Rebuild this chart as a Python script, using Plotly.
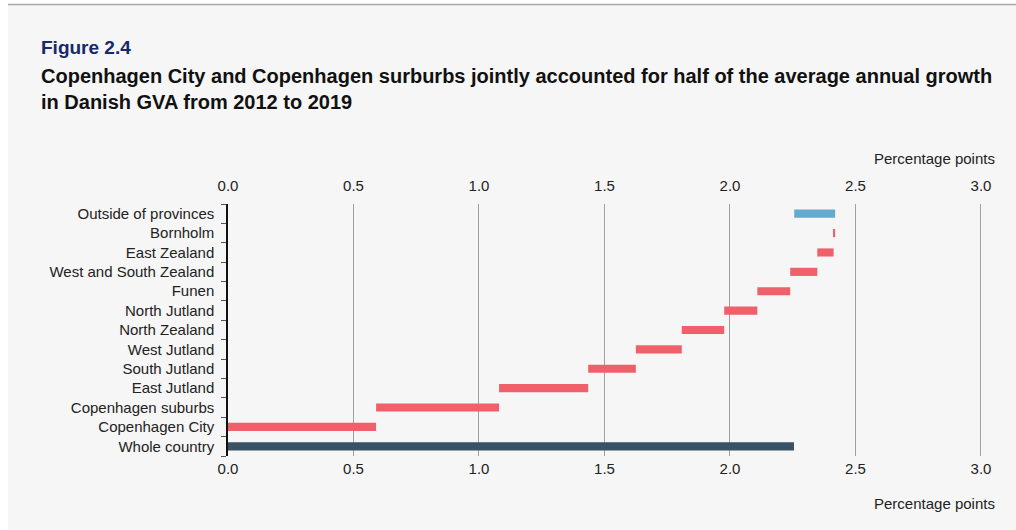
import plotly.graph_objects as go

# ---- data ----
regions = ["Copenhagen City", "Copenhagen suburbs", "East Jutland", "South Jutland",
           "West Jutland", "North Zealand", "North Jutland", "Funen",
           "West and South Zealand", "East Zealand", "Bornholm", "Outside of provinces"]
contributions = [0.59, 0.49, 0.355, 0.19, 0.183, 0.169, 0.132, 0.131, 0.108, 0.065, 0.006, -0.163]
whole_country_label = "Whole country"
whole_country_value = 2.255
x_ticks = [0.0, 0.5, 1.0, 1.5, 2.0, 2.5, 3.0]
x_tick_labels = ["0.0", "0.5", "1.0", "1.5", "2.0", "2.5", "3.0"]

# cumulative bases for the floating bars
bases = []
running = 0.0
for c in contributions:
    bases.append(running)
    running += c

RED = "#F0606A"
BLUE = "#64AACE"
DARK = "#3A5263"
BG = "#F6F6F6"
FONT = "Liberation Sans, Arial, sans-serif"

colors = [RED if c >= 0 else BLUE for c in contributions]
categories = [whole_country_label] + regions

fig = go.Figure()
fig.add_trace(go.Bar(
    y=[whole_country_label], x=[whole_country_value], base=[0],
    orientation="h", marker=dict(color=DARK, line=dict(width=0)),
    width=0.42, showlegend=False, hoverinfo="x+y"))
fig.add_trace(go.Bar(
    y=regions, x=contributions, base=bases,
    orientation="h", marker=dict(color=colors, line=dict(width=0)),
    width=0.42, showlegend=False, hoverinfo="x+y"))
# invisible trace so the top axis is drawn
fig.add_trace(go.Scatter(x=[0], y=[whole_country_label], xaxis="x2", mode="markers",
                         marker=dict(opacity=0), showlegend=False, hoverinfo="skip"))

L, R, T, B = 228, 25, 204, 74
W, H = 1016, 530
pw = W - L - R
ph = H - T - B
def px(x):
    return (x - L) / pw
def py(y):
    return (H - B - y) / ph

xrange = [0, 3.04]
common_x = dict(range=xrange, tickvals=x_ticks, ticktext=x_tick_labels,
                tickfont=dict(family=FONT, size=15, color="#222222"),
                zeroline=False, ticks="", fixedrange=True)

fig.update_layout(
    width=W, height=H,
    margin=dict(l=L, r=R, t=T, b=B, pad=0),
    paper_bgcolor=BG, plot_bgcolor=BG,
    bargap=0.5,
    font=dict(family=FONT, size=15, color="#222222"),
    xaxis=dict(**common_x, showgrid=True, gridcolor="#A0A0A0", gridwidth=1.3,
               showline=False, side="bottom", ticklabelstandoff=2),
    xaxis2=dict(**common_x, overlaying="x", side="top", showgrid=False,
                showline=False, anchor="y", ticklabelstandoff=9),
    yaxis=dict(categoryorder="array", categoryarray=categories,
               range=[-0.5, len(categories) - 0.5],
               showline=True, linecolor="#111111", linewidth=1.5,
               ticks="outside", ticklen=5, tickcolor="#555555", tickwidth=1.3,
               tickson="boundaries", showgrid=False,
               tickfont=dict(family=FONT, size=15, color="#222222"),
               ticklabelstandoff=9, fixedrange=True),
    shapes=[
        dict(type="rect", xref="paper", yref="paper", x0=px(0), x1=px(8), y0=py(H), y1=py(0),
             fillcolor="white", line=dict(width=0), layer="below"),
        dict(type="rect", xref="paper", yref="paper", x0=px(0), x1=px(W), y0=py(5), y1=py(0),
             fillcolor="white", line=dict(width=0), layer="below"),
        dict(type="line", xref="paper", yref="paper", x0=px(8), x1=px(W), y0=py(4.5), y1=py(4.5),
             line=dict(color="#A8A8A8", width=1.5)),
    ],
    annotations=[
        dict(text="<b>Figure 2.4</b>", xref="paper", yref="paper", x=px(39), y=py(47),
             xanchor="left", yanchor="middle", showarrow=False,
             font=dict(family=FONT, size=19, color="#15296B")),
        dict(text="<b>Copenhagen City and Copenhagen surburbs jointly accounted for half of the average annual growth</b>",
             xref="paper", yref="paper", x=px(39), y=py(76),
             xanchor="left", yanchor="middle", showarrow=False,
             font=dict(family=FONT, size=20, color="#111111")),
        dict(text="<b>in Danish GVA from 2012 to 2019</b>",
             xref="paper", yref="paper", x=px(39), y=py(102),
             xanchor="left", yanchor="middle", showarrow=False,
             font=dict(family=FONT, size=20, color="#111111")),
        dict(text="Percentage points", xref="paper", yref="paper", x=px(997), y=py(158),
             xanchor="right", yanchor="middle", showarrow=False,
             font=dict(family=FONT, size=15, color="#222222")),
        dict(text="Percentage points", xref="paper", yref="paper", x=px(997), y=py(503),
             xanchor="right", yanchor="middle", showarrow=False,
             font=dict(family=FONT, size=15, color="#222222")),
    ],
)

fig.write_html("out.html")
